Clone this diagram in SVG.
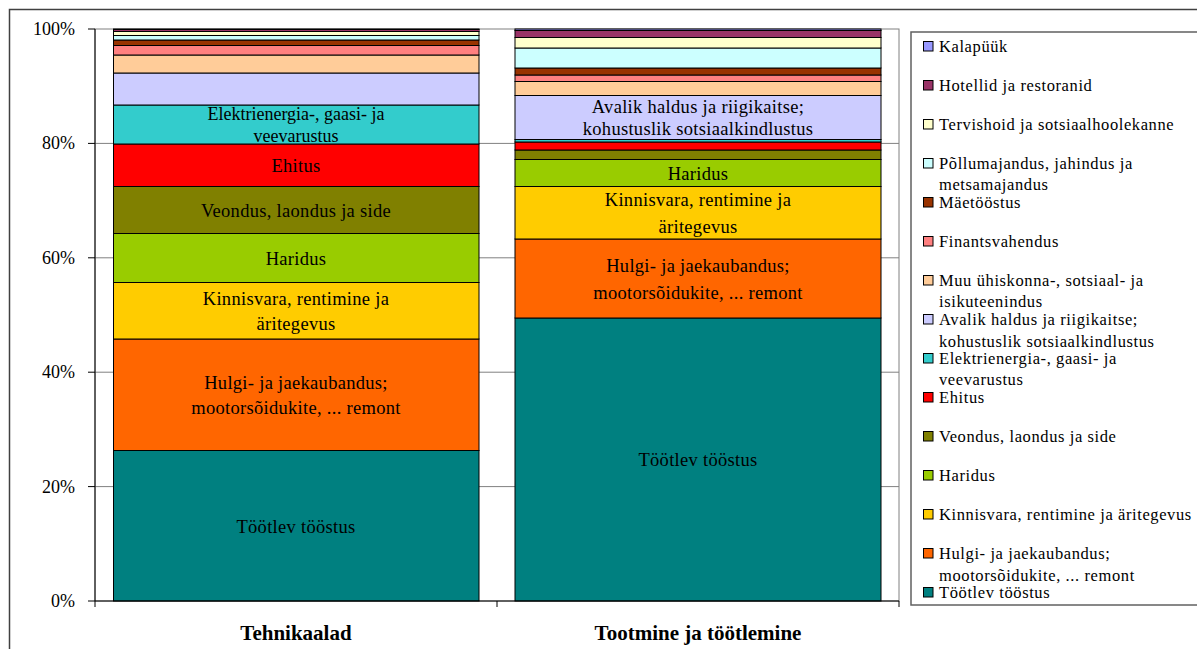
<svg xmlns="http://www.w3.org/2000/svg" width="1197" height="649" viewBox="0 0 1197 649">
<style>
text{font-family:"Liberation Serif","Times New Roman",serif;fill:#000}
.ax{font-size:18px;text-anchor:end}
.cat{font-size:21px;font-weight:bold;text-anchor:middle}
.bl{font-size:18.5px;text-anchor:middle;letter-spacing:0.3px}
.lg{font-size:16.5px;letter-spacing:0.6px}
.seg rect{stroke:#000;stroke-width:1}
.mk{stroke:#000;stroke-width:1}
.grid{stroke:#808080;stroke-width:1}
.c1{fill:#9999FF}.c2{fill:#993366}.c3{fill:#FFFFCC}.c4{fill:#CCFFFF}.c5{fill:#993300}
.c6{fill:#FF8080}.c7{fill:#FFCC99}.c8{fill:#CCCCFF}.c9{fill:#33CCCC}.c10{fill:#FF0000}
.c11{fill:#808000}.c12{fill:#99CC00}.c13{fill:#FFCC00}.c14{fill:#FF6600}.c15{fill:#008080}
</style>
<rect x="0" y="0" width="1197" height="649" fill="#fff"/>
<rect id="chart-border" x="9.5" y="9.5" width="1200" height="700" fill="none" stroke="#404040" stroke-width="1.5"/>
<g id="plot-area">
<rect x="95" y="29" width="804" height="572" fill="none" stroke="#808080" stroke-width="1"/>
<line class="grid" x1="95" y1="143.4" x2="899" y2="143.4"/>
<line class="grid" x1="95" y1="257.8" x2="899" y2="257.8"/>
<line class="grid" x1="95" y1="372.2" x2="899" y2="372.2"/>
<line class="grid" x1="95" y1="486.6" x2="899" y2="486.6"/>
</g>
<g id="bar-tehnikaalad" class="seg">
<rect class="c15" x="113.5" y="450.5" width="365.5" height="150.5"/>
<rect class="c14" x="113.5" y="339" width="365.5" height="111.5"/>
<rect class="c13" x="113.5" y="282.5" width="365.5" height="56.5"/>
<rect class="c12" x="113.5" y="233.5" width="365.5" height="49"/>
<rect class="c11" x="113.5" y="186.5" width="365.5" height="47"/>
<rect class="c10" x="113.5" y="144" width="365.5" height="42.5"/>
<rect class="c9" x="113.5" y="105" width="365.5" height="39"/>
<rect class="c8" x="113.5" y="73" width="365.5" height="32"/>
<rect class="c7" x="113.5" y="55" width="365.5" height="18"/>
<rect class="c6" x="113.5" y="45.5" width="365.5" height="9.5"/>
<rect class="c5" x="113.5" y="40" width="365.5" height="5.5"/>
<rect class="c4" x="113.5" y="35.5" width="365.5" height="4.5"/>
<rect class="c3" x="113.5" y="31.5" width="365.5" height="4"/>
<rect class="c2" x="113.5" y="29.5" width="365.5" height="2"/>
<rect class="c1" x="113.5" y="29" width="365.5" height="0.5"/>
<text class="bl" x="296" y="533">Töötlev tööstus</text>
<text class="bl" x="296" y="389">Hulgi- ja jaekaubandus;</text>
<text class="bl" x="296" y="414">mootorsõidukite, ... remont</text>
<text class="bl" x="296" y="305">Kinnisvara, rentimine ja</text>
<text class="bl" x="296" y="330">äritegevus</text>
<text class="bl" x="296" y="265">Haridus</text>
<text class="bl" x="296" y="217">Veondus, laondus ja side</text>
<text class="bl" x="296" y="172">Ehitus</text>
<text class="bl" x="296" y="119.5" style="font-size:18px;letter-spacing:0">Elektrienergia-, gaasi- ja</text>
<text class="bl" x="296" y="141.5" style="font-size:18px;letter-spacing:0">veevarustus</text>
</g>
<g id="bar-tootmine" class="seg">
<rect class="c15" x="515" y="318" width="366" height="283"/>
<rect class="c14" x="515" y="239" width="366" height="79"/>
<rect class="c13" x="515" y="186.5" width="366" height="52.5"/>
<rect class="c12" x="515" y="159.5" width="366" height="27"/>
<rect class="c11" x="515" y="150" width="366" height="9.5"/>
<rect class="c10" x="515" y="142" width="366" height="8"/>
<rect class="c9" x="515" y="139.5" width="366" height="2.5"/>
<rect class="c8" x="515" y="95.5" width="366" height="44"/>
<rect class="c7" x="515" y="81.5" width="366" height="14"/>
<rect class="c6" x="515" y="75" width="366" height="6.5"/>
<rect class="c5" x="515" y="68" width="366" height="7"/>
<rect class="c4" x="515" y="48" width="366" height="20"/>
<rect class="c3" x="515" y="37.5" width="366" height="10.5"/>
<rect class="c2" x="515" y="30.5" width="366" height="7"/>
<rect class="c1" x="515" y="29" width="366" height="1.5"/>
<text class="bl" x="698" y="466">Töötlev tööstus</text>
<text class="bl" x="698" y="272">Hulgi- ja jaekaubandus;</text>
<text class="bl" x="698" y="299">mootorsõidukite, ... remont</text>
<text class="bl" x="698" y="206">Kinnisvara, rentimine ja</text>
<text class="bl" x="698" y="233">äritegevus</text>
<text class="bl" x="698" y="179.5">Haridus</text>
<text class="bl" x="698" y="112.5">Avalik haldus ja riigikaitse;</text>
<text class="bl" x="698" y="135">kohustuslik sotsiaalkindlustus</text>
</g>
<g id="axes" stroke="#000" stroke-width="1">
<line x1="95" y1="29" x2="95" y2="601"/>
<line x1="95" y1="601" x2="899" y2="601"/>
<line x1="88" y1="29" x2="95" y2="29"/>
<line x1="88" y1="143.4" x2="95" y2="143.4"/>
<line x1="88" y1="257.8" x2="95" y2="257.8"/>
<line x1="88" y1="372.2" x2="95" y2="372.2"/>
<line x1="88" y1="486.6" x2="95" y2="486.6"/>
<line x1="88" y1="601" x2="95" y2="601"/>
<line x1="95" y1="601" x2="95" y2="607"/>
<line x1="497" y1="601" x2="497" y2="607"/>
<line x1="899" y1="601" x2="899" y2="607"/>
</g>
<g id="axis-labels">
<text class="ax" x="75" y="35">100%</text>
<text class="ax" x="75" y="149.4">80%</text>
<text class="ax" x="75" y="263.8">60%</text>
<text class="ax" x="75" y="378.2">40%</text>
<text class="ax" x="75" y="492.6">20%</text>
<text class="ax" x="75" y="607">0%</text>
<text class="cat" x="296" y="640">Tehnikaalad</text>
<text class="cat" x="698" y="640">Tootmine ja töötlemine</text>
</g>
<g id="legend">
<rect x="911" y="32" width="300" height="573" fill="#fff" stroke="#606060" stroke-width="1.5"/>
<g class="mk">
<rect class="c1" x="923.5" y="41.5" width="9.5" height="9.5"/>
<rect class="c2" x="923.5" y="80.5" width="9.5" height="9.5"/>
<rect class="c3" x="923.5" y="119.5" width="9.5" height="9.5"/>
<rect class="c4" x="923.5" y="158.5" width="9.5" height="9.5"/>
<rect class="c5" x="923.5" y="197.5" width="9.5" height="9.5"/>
<rect class="c6" x="923.5" y="236.5" width="9.5" height="9.5"/>
<rect class="c7" x="923.5" y="275.5" width="9.5" height="9.5"/>
<rect class="c8" x="923.5" y="314.5" width="9.5" height="9.5"/>
<rect class="c9" x="923.5" y="353.5" width="9.5" height="9.5"/>
<rect class="c10" x="923.5" y="392.5" width="9.5" height="9.5"/>
<rect class="c11" x="923.5" y="431.5" width="9.5" height="9.5"/>
<rect class="c12" x="923.5" y="470.5" width="9.5" height="9.5"/>
<rect class="c13" x="923.5" y="509.5" width="9.5" height="9.5"/>
<rect class="c14" x="923.5" y="548.5" width="9.5" height="9.5"/>
<rect class="c15" x="923.5" y="587.5" width="9.5" height="9.5"/>
</g>
<text class="lg" x="939" y="52">Kalapüük</text>
<text class="lg" x="939" y="91">Hotellid ja restoranid</text>
<text class="lg" x="939" y="130">Tervishoid ja sotsiaalhoolekanne</text>
<text class="lg" x="939" y="169">Põllumajandus, jahindus ja</text>
<text class="lg" x="939" y="190">metsamajandus</text>
<text class="lg" x="939" y="208">Mäetööstus</text>
<text class="lg" x="939" y="247">Finantsvahendus</text>
<text class="lg" x="939" y="286">Muu ühiskonna-, sotsiaal- ja</text>
<text class="lg" x="939" y="307">isikuteenindus</text>
<text class="lg" x="939" y="325">Avalik haldus ja riigikaitse;</text>
<text class="lg" x="939" y="347">kohustuslik sotsiaalkindlustus</text>
<text class="lg" x="939" y="364">Elektrienergia-, gaasi- ja</text>
<text class="lg" x="939" y="385">veevarustus</text>
<text class="lg" x="939" y="403">Ehitus</text>
<text class="lg" x="939" y="442">Veondus, laondus ja side</text>
<text class="lg" x="939" y="481">Haridus</text>
<text class="lg" x="939" y="520">Kinnisvara, rentimine ja äritegevus</text>
<text class="lg" x="939" y="559">Hulgi- ja jaekaubandus;</text>
<text class="lg" x="939" y="581">mootorsõidukite, ... remont</text>
<text class="lg" x="939" y="598">Töötlev tööstus</text>
</g>
</svg>
